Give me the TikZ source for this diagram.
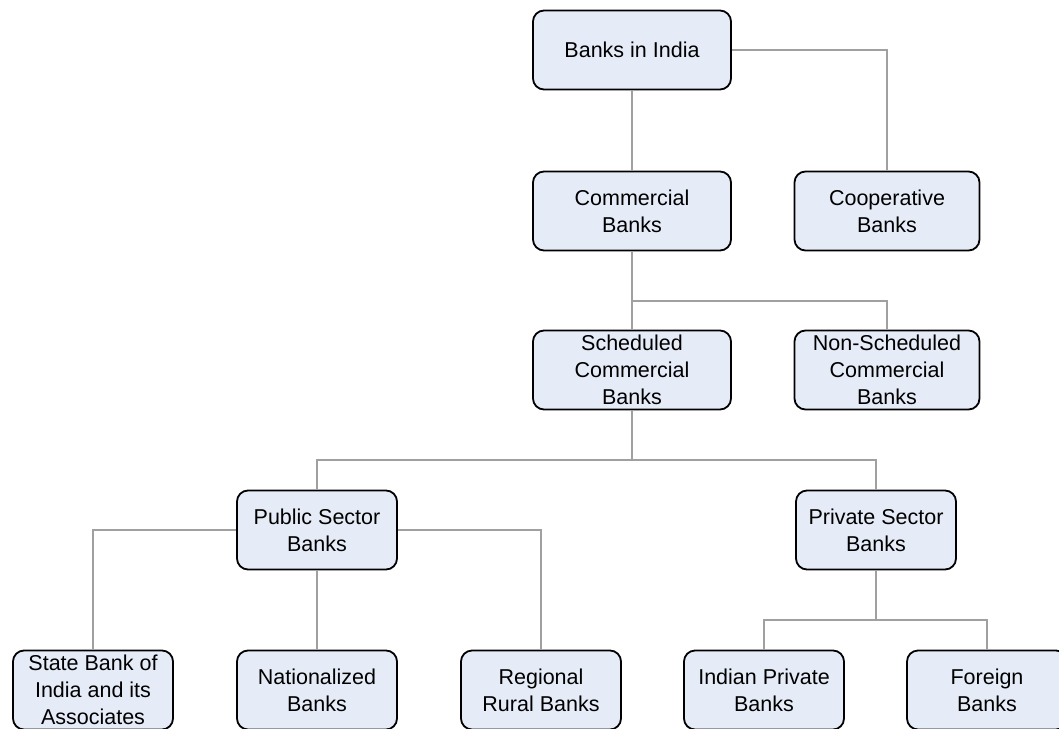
\documentclass[tikz,border=0pt]{standalone}
\usepackage{fontspec}
\setmainfont{Liberation Sans}
\definecolor{boxfill}{HTML}{E6ECF7}
\definecolor{linkgray}{HTML}{A0A0A0}
\tikzset{
  bank/.style={draw=black, fill=boxfill, line width=1.8pt, rounded corners=11pt,
    minimum width=160pt, minimum height=79pt, align=center, inner sep=0pt,
    font=\fontsize{21.5}{27}\selectfont},
  widebank/.style={bank, minimum width=198pt},
  link/.style={draw=linkgray, line width=1.4pt}
}
\begin{document}
\begin{tikzpicture}[x=1pt, y=-1pt]
    \useasboundingbox[fill=white] (0,0) rectangle (1059,728);

    % Top levels
    \node[widebank] (india) at (632,50) {Banks in India};
    \node[widebank] (comm) at (632,211) {Commercial\\Banks};
    \node[bank, minimum width=185pt] (coop) at (887,211) {Cooperative\\Banks};
    \node[widebank] (sched) at (632,370) {Scheduled\\Commercial\\Banks};
    \node[bank, minimum width=185pt] (nonsched) at (887,370) {Non-Scheduled\\Commercial\\Banks};

    % Sectors
    \node[bank] (public) at (317,530) {Public Sector\\Banks};
    \node[bank] (private) at (876,530) {Private Sector\\Banks};

    % Bottom row
    \node[bank] (sbi) at (93,690) {State Bank of\\India and its\\Associates};
    \node[bank] (national) at (317,690) {Nationalized\\Banks};
    \node[bank] (rural) at (541,690) {Regional\\Rural Banks};
    \node[bank] (indpriv) at (764,690) {Indian Private\\Banks};
    \node[bank] (foreign) at (987,690) {Foreign\\Banks};

    % Junctions
    \coordinate (j1) at (632,301);
    \coordinate (j2) at (632,460);
    \coordinate (j3) at (876,620);

    % Connectors
    \draw[link] (india.south) -- (comm.north);
    \draw[link] (india.east) -| (coop.north);
    \draw[link] (comm.south) -- (sched.north);
    \draw[link] (j1) -| (nonsched.north);
    \draw[link] (sched.south) -- (j2);
    \draw[link] (j2) -| (public.north);
    \draw[link] (j2) -| (private.north);
    \draw[link] (public.west) -| (sbi.north);
    \draw[link] (public.south) -- (national.north);
    \draw[link] (public.east) -| (rural.north);
    \draw[link] (private.south) -- (j3);
    \draw[link] (j3) -| (indpriv.north);
    \draw[link] (j3) -| (foreign.north);

\end{tikzpicture}
\end{document}
